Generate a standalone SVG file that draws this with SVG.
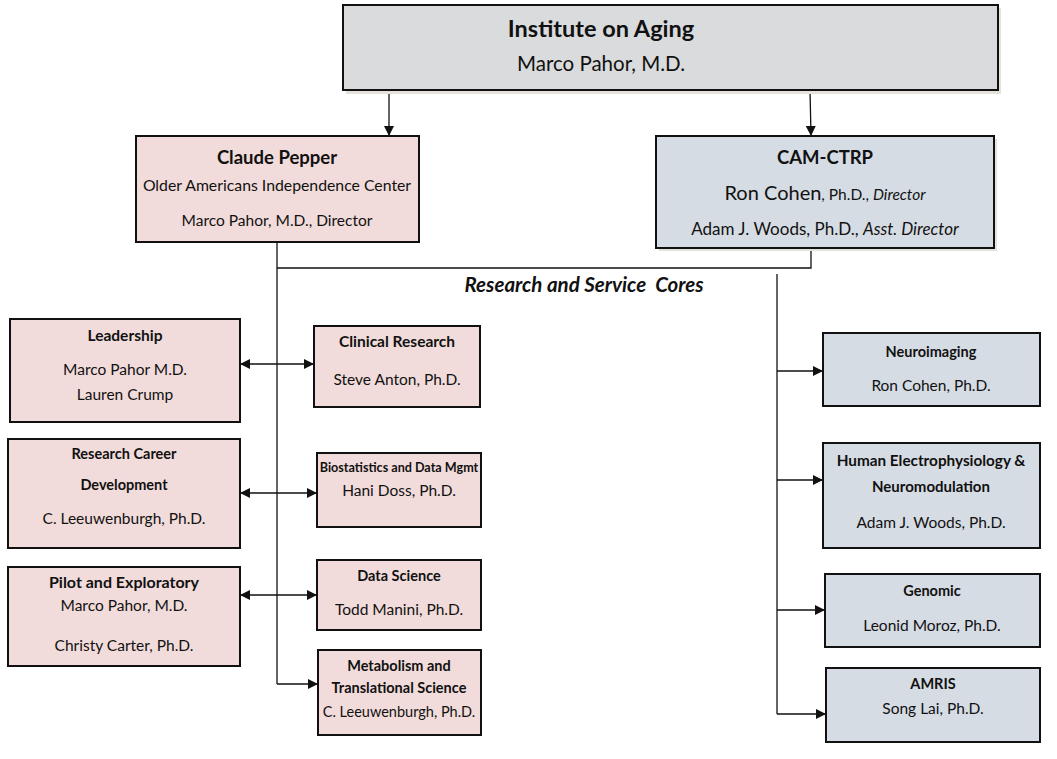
<svg xmlns="http://www.w3.org/2000/svg" width="1057" height="759" viewBox="0 0 1057 759">
<style>
text{font-family:Lato,"Open Sans","Liberation Sans",sans-serif;fill:#111;text-anchor:middle}
.b{font-weight:bold}
.box{stroke:#111;stroke-width:2}
.pink{fill:#F2DCDB}
.blue{fill:#D6DCE4}
.gray{fill:#DADBDC}
.sh{fill:#E4E2DA}
.ln{stroke:#111;stroke-width:1.3;fill:none}
</style>
<defs>
<marker id="ah" viewBox="0 0 10 10" refX="10" refY="5" markerWidth="10" markerHeight="10" markerUnits="userSpaceOnUse" orient="auto-start-reverse">
<path d="M0,0 L10,5 L0,10 z" fill="#111"/>
</marker>
</defs>
<g id="connectors">
<line class="ln" x1="389" y1="90" x2="389" y2="136" marker-end="url(#ah)"/>
<line class="ln" x1="810" y1="90" x2="811" y2="136" marker-end="url(#ah)"/>
<polyline class="ln" points="277,242 277,684"/>
<polyline class="ln" points="277,268 811,268 811,248"/>
<line class="ln" x1="777" y1="274" x2="777" y2="714"/>
<line class="ln" x1="240" y1="364" x2="314" y2="364" marker-start="url(#ah)" marker-end="url(#ah)"/>
<line class="ln" x1="240" y1="493" x2="317" y2="493" marker-start="url(#ah)" marker-end="url(#ah)"/>
<line class="ln" x1="240" y1="595" x2="317" y2="595" marker-start="url(#ah)" marker-end="url(#ah)"/>
<line class="ln" x1="277" y1="684" x2="318" y2="684" marker-end="url(#ah)"/>
<line class="ln" x1="777" y1="371" x2="823" y2="371" marker-end="url(#ah)"/>
<line class="ln" x1="777" y1="480" x2="823" y2="480" marker-end="url(#ah)"/>
<line class="ln" x1="777" y1="610" x2="825" y2="610" marker-end="url(#ah)"/>
<line class="ln" x1="777" y1="714" x2="826" y2="714" marker-end="url(#ah)"/>
<text x="584" y="292" class="b" font-style="italic" font-size="20.5" style="white-space:pre">Research and Service  Cores</text>
</g>
<g id="institute">
<rect class="sh" x="346" y="8" width="655" height="86"/>
<rect class="box gray" x="343" y="5" width="655" height="85"/>
<text x="601" y="37" class="b" font-size="23.5">Institute on Aging</text>
<text x="601" y="71" font-size="20.5">Marco Pahor, M.D.</text>
</g>
<g id="claude-pepper">
<rect class="box pink" x="136" y="136" width="283" height="106"/>
<text x="277" y="164" class="b" font-size="18.5">Claude Pepper</text>
<text x="277" y="191" font-size="15.8">Older Americans Independence Center</text>
<text x="277" y="226" font-size="15.5">Marco Pahor, M.D., Director</text>
</g>
<g id="cam-ctrp">
<rect class="sh" x="659" y="139" width="338" height="112"/>
<rect class="box blue" x="656" y="136" width="338" height="112"/>
<text x="825" y="164" class="b" font-size="18.5">CAM-CTRP</text>
<text x="825" y="200"><tspan font-size="20">Ron Cohen</tspan><tspan font-size="15.5">, Ph.D., </tspan><tspan font-size="15.5" font-style="italic">Director</tspan></text>
<text x="825" y="235" font-size="17">Adam J. Woods, Ph.D., <tspan font-style="italic">Asst. Director</tspan></text>
</g>
<g id="leadership">
<rect class="box pink" x="10" y="319" width="230" height="103"/>
<text x="125" y="341" class="b" font-size="15.5">Leadership</text>
<text x="125" y="375" font-size="15.5">Marco Pahor M.D.</text>
<text x="125" y="400" font-size="15.5">Lauren Crump</text>
</g>
<g id="clinical-research">
<rect class="box pink" x="314" y="326" width="166" height="81"/>
<text x="397" y="347" class="b" font-size="15.5">Clinical Research</text>
<text x="397" y="385" font-size="15.5">Steve Anton, Ph.D.</text>
</g>
<g id="research-career">
<rect class="box pink" x="8" y="439" width="232" height="109"/>
<text x="124" y="459" class="b" font-size="14.5">Research Career</text>
<text x="124" y="490" class="b" font-size="14.5">Development</text>
<text x="124" y="524" font-size="15.5">C. Leeuwenburgh, Ph.D.</text>
</g>
<g id="biostatistics">
<rect class="box pink" x="317" y="453" width="164" height="74"/>
<text x="399" y="472" class="b" font-size="12.6">Biostatistics and Data Mgmt</text>
<text x="399" y="496" font-size="15.5">Hani Doss, Ph.D.</text>
</g>
<g id="pilot">
<rect class="box pink" x="8" y="567" width="232" height="99"/>
<text x="124" y="588" class="b" font-size="16">Pilot and Exploratory</text>
<text x="124" y="611" font-size="15.5">Marco Pahor, M.D.</text>
<text x="124" y="651" font-size="15.5">Christy Carter, Ph.D.</text>
</g>
<g id="data-science">
<rect class="box pink" x="317" y="560" width="164" height="70"/>
<text x="399" y="581" class="b" font-size="14.5">Data Science</text>
<text x="399" y="615" font-size="15.5">Todd Manini, Ph.D.</text>
</g>
<g id="metabolism">
<rect class="box pink" x="318" y="650" width="163" height="85"/>
<text x="399" y="671" class="b" font-size="14.5">Metabolism and</text>
<text x="399" y="693" class="b" font-size="14.5">Translational Science</text>
<text x="399" y="717" font-size="14.5">C. Leeuwenburgh, Ph.D.</text>
</g>
<g id="neuroimaging">
<rect class="box blue" x="823" y="333" width="217" height="73"/>
<text x="931" y="357" class="b" font-size="14.5">Neuroimaging</text>
<text x="931" y="391" font-size="15.5">Ron Cohen, Ph.D.</text>
</g>
<g id="electrophysiology">
<rect class="box blue" x="823" y="443" width="217" height="105"/>
<text x="931" y="466" class="b" font-size="15.3">Human Electrophysiology &amp;</text>
<text x="931" y="492" class="b" font-size="15">Neuromodulation</text>
<text x="931" y="528" font-size="15.5">Adam J. Woods, Ph.D.</text>
</g>
<g id="genomic">
<rect class="box blue" x="825" y="574" width="215" height="73"/>
<text x="932" y="596" class="b" font-size="14.5">Genomic</text>
<text x="932" y="631" font-size="15.5">Leonid Moroz, Ph.D.</text>
</g>
<g id="amris">
<rect class="box blue" x="826" y="668" width="214" height="74"/>
<text x="933" y="689" class="b" font-size="14.5">AMRIS</text>
<text x="933" y="714" font-size="15.5">Song Lai, Ph.D.</text>
</g>
</svg>
